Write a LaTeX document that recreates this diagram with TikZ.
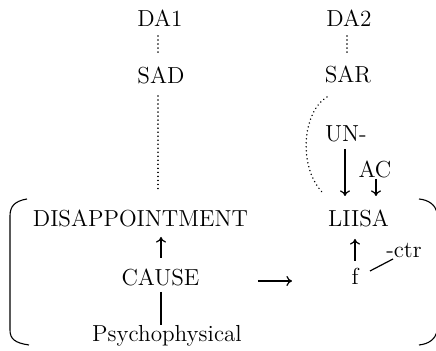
\documentclass[tikz,border=0pt]{standalone}
\usetikzlibrary{arrows.meta}
\begin{document}
\begin{tikzpicture}[x=0.5pt,y=-0.5pt,
  lbl/.style={anchor=base,inner sep=0pt,font=\fontsize{11.6}{14}\selectfont},
  dots/.style={line width=0.8pt,line cap=round,dash pattern=on 0.01pt off 2pt},
  arr/.style={line width=0.6pt,-{To[length=2.8pt,width=5pt]}},
  plain/.style={line width=0.6pt},
  brk/.style={line width=0.55pt}]
\useasboundingbox (0,0) rectangle (436,351);
% nodes
\node[lbl] (da1) at (160,27) {DA1};
\node[lbl] (sad) at (161,84) {SAD};
\node[lbl] (da2) at (349,27) {DA2};
\node[lbl] (sar) at (348,83) {SAR};
\node[lbl] (un) at (346,142) {UN-};
\node[lbl] (ac) at (375,178) {AC};
\node[lbl] (dis) at (140.5,227) {DISAPPOINTMENT};
\node[lbl] (liisa) at (358.5,227) {LIISA};
\node[lbl] (cause) at (160.5,286) {CAUSE};
\node[lbl] (f) at (355,285) {f};
\node[lbl] (ctr) at (404,258) {-ctr};
\node[lbl] (psy) at (167,342) {Psychophysical};
% coordinates
\coordinate (d1a) at (158,36);
\coordinate (d1b) at (158,55);
\coordinate (d2a) at (158,96);
\coordinate (d2b) at (158,192);
\coordinate (d3a) at (347,36);
\coordinate (d3b) at (347,55);
\coordinate (c1) at (327,97);
\coordinate (c2) at (323,193);
\coordinate (a1a) at (345,149);
\coordinate (a1b) at (345,196);
\coordinate (a2a) at (376,179);
\coordinate (a2b) at (376,196);
\coordinate (u1a) at (161,258);
\coordinate (u1b) at (161,237);
\coordinate (l1a) at (161,292);
\coordinate (l1b) at (161,325);
\coordinate (u2a) at (355,261);
\coordinate (u2b) at (355,239);
\coordinate (ra) at (258,281);
\coordinate (rb) at (292,281);
\coordinate (ca) at (370,271);
\coordinate (cb) at (393,259);
% dotted
\draw[dots] (d1a) -- (d1b);
\draw[dots] (d2a) -- (d2b);
\draw[dots] (d3a) -- (d3b);
\draw[dots] (c1) .. controls (302,112) and (298,168) .. (c2);
% arrows
\draw[arr] (a1a) -- (a1b);
\draw[arr] (a2a) -- (a2b);
\draw[arr] (u1a) -- (u1b);
\draw[plain] (l1a) -- (l1b);
\draw[arr] (u2a) -- (u2b);
\draw[arr] (ra) -- (rb);
\draw[plain] (ca) -- (cb);
% brackets
\draw[brk] (27,199) .. controls (15,201) and (10,206) .. (10,216) -- (10,330) .. controls (10,339) and (15,343) .. (29,345);
\draw[brk] (419,199) .. controls (429,200) and (435,205) .. (437,212);
\draw[brk] (419,345) .. controls (429,344) and (435,339) .. (437,332);
\end{tikzpicture}
\end{document}
